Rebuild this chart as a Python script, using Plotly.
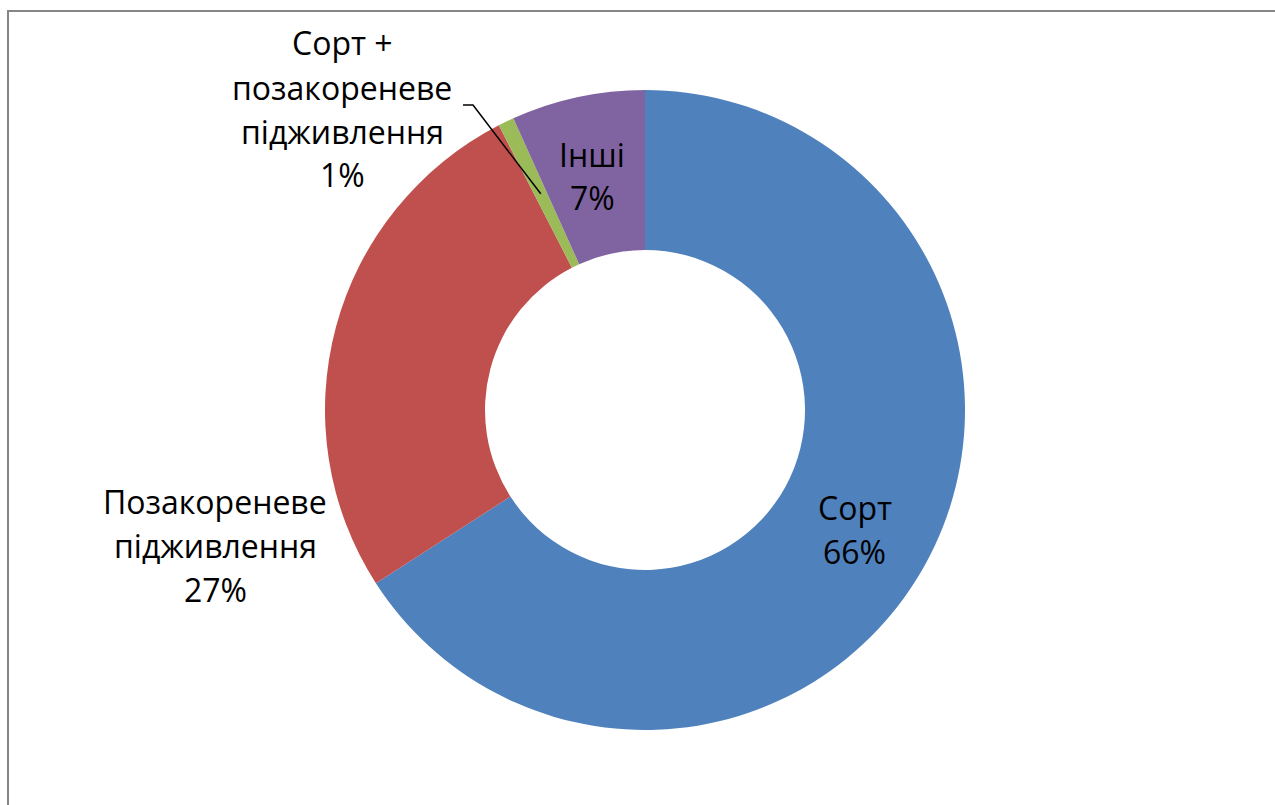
import math
import plotly.graph_objects as go

W, H = 1275, 805

# ---- data ----
categories = ["Сорт", "Позакореневе підживлення", "Сорт + позакореневе підживлення", "Інші"]
label_lines = [["Сорт"], ["Позакореневе", "підживлення"], ["Сорт +", "позакореневе", "підживлення"], ["Інші"]]
values = [65.9, 26.55, 0.8, 6.75]
colors = ["#4F81BD", "#C0504D", "#9BBB59", "#8064A2"]

# label placement (pixel centres of text blocks) and line pitch
label_pos = [(855, 529), (215, 545), (342, 109), (592, 176)]
PITCH = 44
FONT = "Open Sans"
FSIZE = 32

def px(x):
    return x / W

def py(y):
    return 1 - y / H

cx, cy, R = 645, 410, 320

fig = go.Figure(go.Pie(
    labels=categories,
    values=values,
    marker=dict(colors=colors, line=dict(width=0)),
    hole=0.5,
    sort=False,
    direction="clockwise",
    rotation=0,
    textinfo="none",
    hoverinfo="label+percent",
    showlegend=False,
    domain=dict(x=[px(cx - R), px(cx + R)], y=[py(cy + R), py(cy - R)]),
))

total = sum(values)
annotations = []
for lines, v, (x, y) in zip(label_lines, values, label_pos):
    pct = int(v / total * 100 + 0.5)
    all_lines = lines + [f"{pct}%"]
    n = len(all_lines)
    for i, t in enumerate(all_lines):
        yy = y + (i - (n - 1) / 2) * PITCH
        annotations.append(dict(
            x=px(x), y=py(yy), xref="paper", yref="paper",
            text=t, showarrow=False, xanchor="center", yanchor="middle",
            font=dict(family=FONT, size=FSIZE, color="#000000"),
        ))

# leader line end: middle of the small slice, at 3/4 of the outer radius
start = sum(values[:2]) / total * 2 * math.pi
mid = start + values[2] / total * math.pi
ex = cx + 0.75 * R * math.sin(mid)
ey = cy - 0.75 * R * math.cos(mid)

shapes = [
    # chart-area border (right and bottom edges fall outside the picture)
    dict(type="rect", xref="paper", yref="paper",
         x0=px(8), y0=py(11), x1=px(W + 20), y1=py(H + 20),
         line=dict(color="#868686", width=2), fillcolor="rgba(0,0,0,0)"),
    # leader line for the small slice
    dict(type="path", xref="paper", yref="paper",
         path=f"M {px(463)} {py(105)} L {px(473)} {py(105)} L {px(ex)} {py(ey)}",
         line=dict(color="#000000", width=1.5)),
]

fig.update_layout(
    width=W, height=H,
    margin=dict(l=0, r=0, t=0, b=0),
    paper_bgcolor="#FFFFFF",
    plot_bgcolor="#FFFFFF",
    annotations=annotations,
    shapes=shapes,
)

fig.write_html("out.html")
